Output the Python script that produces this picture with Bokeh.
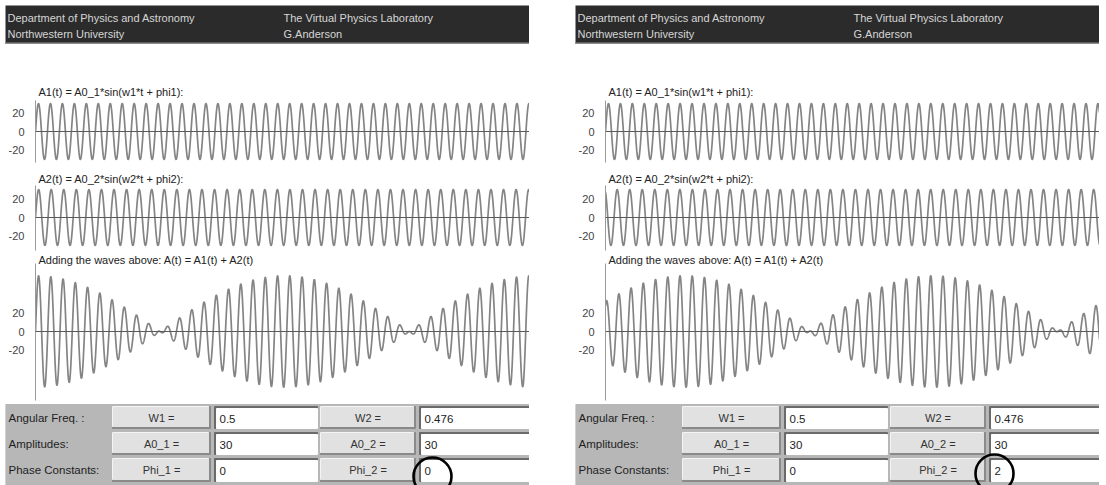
import numpy as np
from bokeh.plotting import figure
from bokeh.layouts import row, column
from bokeh.models import Range1d, Span, FixedTicker, Spacer
from bokeh.core.properties import value
from bokeh.embed import file_html
from bokeh.resources import INLINE

# ---------------- data ----------------
header_left = ["Department of Physics and Astronomy", "Northwestern University"]
header_right = ["The Virtual Physics Laboratory", "G.Anderson"]
wave_titles = ["A1(t) = A0_1*sin(w1*t + phi1):",
               "A2(t) = A0_2*sin(w2*t + phi2):",
               "Adding the waves above: A(t) = A1(t) + A2(t)"]
row_labels = ["Angular Freq. :", "Amplitudes:", "Phase Constants:"]
buttons_1 = ["W1 =", "A0_1 =", "Phi_1 ="]
buttons_2 = ["W2 =", "A0_2 =", "Phi_2 ="]
panel_w1 = [0.5, 0.5]
panel_w2 = [0.476, 0.476]
panel_a1 = [30, 30]
panel_a2 = [30, 30]
panel_phi1 = [0, 0]
panel_phi2 = [0, 2]
y_ticks = [-20, 0, 20]
y_tick_text = {-20: "-20", 0: "0", 20: "20"}

# ---------------- layout / style constants ----------------
FONT = "Liberation Sans"
PX_PER_UNIT = 0.93
T_PER_PX = 1.04
PANEL_W = 524
WAVE_COLOR = "#848484"


def base_fig(**kw):
    f = figure(toolbar_location=None, output_backend="svg", **kw)
    f.frame_align = False
    f.outline_line_color = None
    f.grid.visible = False
    return f


def header_fig(width):
    h = base_fig(width=width, height=39, x_range=Range1d(0, width),
                 y_range=Range1d(44, 5), min_border=0,
                 x_axis_location=None, y_axis_location=None)
    h.background_fill_color = "#2b2b2b"
    h.border_fill_color = "#2b2b2b"
    h.quad(left=[0], right=[PANEL_W], top=[42.5], bottom=[44.5], color="#8e8e8e")
    h.text(x=[2, 2], y=[17, 33], text=header_left, text_font=value(FONT),
           text_font_size="11px", text_color="#d6d6d6", text_baseline="middle")
    h.text(x=[278, 278], y=[17, 33], text=header_right, text_font=value(FONT),
           text_font_size="11px", text_color="#d6d6d6", text_baseline="middle")
    return h


def wave_fig(width, border_left, top_px, height, zero_px, axis_top_px, axis_bot_px,
             title, title_px, func):
    frame_w = width - border_left
    tmax = frame_w * T_PER_PX
    y_top = (zero_px - top_px) / PX_PER_UNIT
    y_bot = (zero_px - (top_px + height)) / PX_PER_UNIT
    p = base_fig(width=width, height=height, x_range=Range1d(0, tmax),
                 y_range=Range1d(y_bot, y_top), min_border=0,
                 min_border_left=border_left, x_axis_location=None)
    p.background_fill_color = "white"
    ax = p.yaxis[0]
    ax.ticker = FixedTicker(ticks=y_ticks)
    ax.major_label_overrides = y_tick_text
    ax.bounds = ((zero_px - axis_bot_px) / PX_PER_UNIT, (zero_px - axis_top_px) / PX_PER_UNIT)
    ax.major_tick_line_color = None
    ax.minor_tick_line_color = None
    ax.axis_line_color = "#9a9a9a"
    ax.major_label_standoff = 5
    ax.major_label_text_font = FONT
    ax.major_label_text_font_size = "11px"
    ax.major_label_text_color = "#444444"
    p.add_layout(Span(location=0, dimension="width", line_color="#5a5a5a", line_width=1))
    t = np.linspace(0, tmax, 4000)
    p.line(t, func(t), line_color=WAVE_COLOR, line_width=1.7)
    p.text(x=[0], y=[(zero_px - title_px) / PX_PER_UNIT], text=[title], x_offset=3,
           text_font=value(FONT), text_font_size="11px", text_color="#222222",
           text_baseline="middle")
    return p


def table_fig(width, k):
    tb = base_fig(width=width, height=82, x_range=Range1d(0, width),
                  y_range=Range1d(485, 403), min_border=0,
                  x_axis_location=None, y_axis_location=None)
    tb.background_fill_color = "white"
    tops = [406, 432, 458]
    bots = [428, 454, 481]
    btn_cols = [(107, 205), (315, 410)]
    fld_cols = [(209, 312), (414, 524)]
    tb.quad(left=[0], right=[PANEL_W], top=[404], bottom=[490], color="#b7b7b7")
    vals1 = [panel_w1[k], panel_a1[k], panel_phi1[k]]
    vals2 = [panel_w2[k], panel_a2[k], panel_phi2[k]]
    mids = [(a + b) / 2 for a, b in zip(tops, bots)]
    tb.text(x=[3] * 3, y=mids, text=row_labels, text_font=value(FONT),
            text_font_size="11.5px", text_color="#1e1e1e", text_baseline="middle")
    for (bl, br), (fl, fr), labels, vals in zip(btn_cols, fld_cols,
                                                  [buttons_1, buttons_2], [vals1, vals2]):
        n = len(tops)
        tb.quad(left=[bl] * n, right=[br] * n, top=tops, bottom=bots, color="#8a8a8a")
        tb.quad(left=[bl] * n, right=[br - 2] * n, top=tops, bottom=[b - 2 for b in bots],
                color="#f4f4f4")
        tb.quad(left=[bl + 1] * n, right=[br - 2] * n, top=[t + 1 for t in tops],
                bottom=[b - 2 for b in bots], color="#e1e1e1")
        tb.text(x=[(bl + br) / 2] * n, y=mids, text=labels, text_font=value(FONT),
                text_font_size="11px", text_color="#333333", text_baseline="middle",
                text_align="center")
        tb.quad(left=[fl] * n, right=[fr] * n, top=tops, bottom=bots, color="#6a6a6a")
        tb.quad(left=[fl + 2] * n, right=[fr] * n, top=[t + 2 for t in tops], bottom=bots,
                color="#ffffff")
        tb.text(x=[fl + 5] * n, y=[m + 1 for m in mids], text=[f"{v:g}" for v in vals],
                text_font=value(FONT), text_font_size="11.5px", text_color="#222222",
                text_baseline="middle")
    circle_dx = [13, 5]
    circle_y = [476, 473]
    tb.ellipse(x=[fld_cols[1][0] + circle_dx[k]], y=[circle_y[k]], width=38, height=38,
               fill_color=None, line_color="black", line_width=2.6)
    return tb


def panel(k, width, border_left):
    w1, w2 = panel_w1[k], panel_w2[k]
    a1, a2 = panel_a1[k], panel_a2[k]
    p1, p2 = panel_phi1[k], panel_phi2[k]
    f1 = lambda t: a1 * np.sin(w1 * t + p1)
    f2 = lambda t: a2 * np.sin(w2 * t + p2)
    f3 = lambda t: f1(t) + f2(t)
    top = Spacer(width=width, height=5)
    hdr = header_fig(width)
    sp = Spacer(width=width, height=40)
    wv1 = wave_fig(width, border_left, 84, 87, 131, 100, 162, wave_titles[0], 91, f1)
    wv2 = wave_fig(width, border_left, 171, 81, 217, 185, 250, wave_titles[1], 178, f2)
    wv3 = wave_fig(width, border_left, 252, 151, 331, 263, 400, wave_titles[2], 259, f3)
    tb = table_fig(width, k)
    return column(top, hdr, sp, wv1, wv2, wv3, tb)


left = panel(0, PANEL_W, 25)
right = panel(1, PANEL_W, 24)
page = row(Spacer(width=5, height=485), left, Spacer(width=46, height=485), right,
           Spacer(width=7, height=485))

open("out.html", "w").write(file_html(page, INLINE))
